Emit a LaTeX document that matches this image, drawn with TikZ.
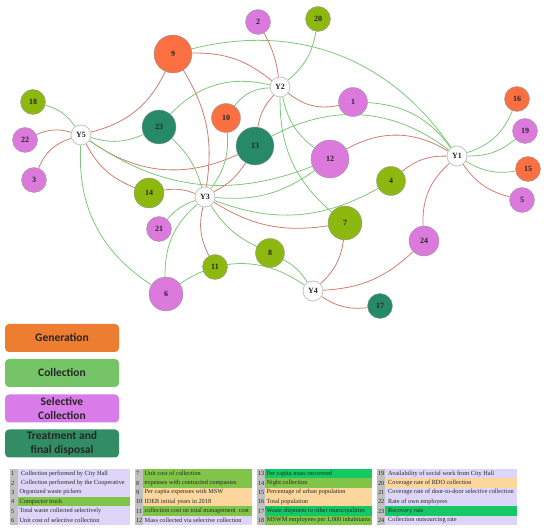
\documentclass[tikz,border=0pt]{standalone}
\usepackage{fontspec}
\setmainfont{Liberation Serif}
\newfontfamily\legfont{Carlito}
\pgfdeclarelayer{bg}
\pgfsetlayers{bg,main}
\definecolor{cOr}{RGB}{250,112,66}
\definecolor{cOl}{RGB}{141,184,16}
\definecolor{cPk}{RGB}{219,122,220}
\definecolor{cDg}{RGB}{38,138,104}
\definecolor{eGr}{RGB}{125,200,120}
\definecolor{eRd}{RGB}{208,125,110}
\definecolor{lGen}{RGB}{237,125,49}
\definecolor{lCol}{RGB}{118,196,104}
\definecolor{lSel}{RGB}{217,123,232}
\definecolor{lTre}{RGB}{50,140,100}
\definecolor{tLav}{RGB}{221,214,248}
\definecolor{tGrn}{RGB}{128,196,72}
\definecolor{tBgr}{RGB}{20,200,100}
\definecolor{tOrg}{RGB}{252,214,156}
\definecolor{tGry}{RGB}{192,192,192}
\newcommand{\tcell}[6]{%
  \pgfmathsetmacro\ytop{61-9.33*#3}%
  \fill[#5] (#1,\ytop) rectangle (#2,\ytop-9.33);%
  \fill[tGry] (#1,\ytop) rectangle (#1+8,\ytop-9.33);%
  \node[tnum] (tn#4) at (#1+0.8,\ytop-4.8) {#4};%
  \node[ttxt] (tt#4) at (#1+9.5,\ytop-4.8) {#6};%
}
\begin{document}
\begin{tikzpicture}[x=1pt,y=1pt,
  vtx/.style={circle, inner sep=0pt, draw=black!40, line width=0.4pt, text=black!85,
    font=\bfseries\fontsize{8}{8}\selectfont},
  hub/.style={vtx, fill=white, minimum size=20pt, draw=black!22, line width=0.9pt},
  vo/.style={vtx, fill=cOr},
  vg/.style={vtx, fill=cOl},
  vp/.style={vtx, fill=cPk},
  vd/.style={vtx, fill=cDg},
  eg/.style={draw=eGr, line width=0.8pt},
  er/.style={draw=eRd, line width=0.8pt},
  legbox/.style={rounded corners=4pt, minimum width=114pt, minimum height=28pt, inner sep=1pt,
    align=center, text=black!85, font=\legfont\bfseries\fontsize{11.5}{13.5}\selectfont},
  tnum/.style={anchor=west, inner sep=0pt, text=black!85, font=\fontsize{6.3}{7}\selectfont},
  ttxt/.style={anchor=west, inner sep=0pt, text=black!85, font=\fontsize{6.3}{7}\selectfont}
]
\useasboundingbox (0,0) rectangle (550,530);
% hubs
\node[hub] (Y1) at (457,374) {Y1};
\node[hub] (Y2) at (280,443) {Y2};
\node[hub] (Y3) at (205,333) {Y3};
\node[hub] (Y4) at (313,239) {Y4};
\node[hub] (Y5) at (81,395) {Y5};
% variables
\node[vp, minimum size=29pt] (n1) at (353,428) {1};
\node[vp, minimum size=25pt] (n2) at (258,508) {2};
\node[vp, minimum size=25pt] (n3) at (34,350) {3};
\node[vg, minimum size=29pt] (n4) at (391,349) {4};
\node[vp, minimum size=25pt] (n5) at (522,330) {5};
\node[vp, minimum size=34pt] (n6) at (166,236) {6};
\node[vg, minimum size=34pt] (n7) at (345,307) {7};
\node[vg, minimum size=29pt] (n8) at (270,277) {8};
\node[vo, minimum size=38pt] (n9) at (173,476) {9};
\node[vo, minimum size=29pt] (n10) at (226,412) {10};
\node[vg, minimum size=25pt] (n11) at (215,263) {11};
\node[vp, minimum size=38pt] (n12) at (330,371) {12};
\node[vd, minimum size=38pt] (n13) at (255,384) {13};
\node[vg, minimum size=30pt] (n14) at (149,337) {14};
\node[vo, minimum size=25pt] (n15) at (528,361) {15};
\node[vo, minimum size=25pt] (n16) at (517,431) {16};
\node[vd, minimum size=25pt] (n17) at (380,224) {17};
\node[vg, minimum size=25pt] (n18) at (33,428) {18};
\node[vp, minimum size=25pt] (n19) at (525,399) {19};
\node[vg, minimum size=25pt] (n20) at (318,511) {20};
\node[vp, minimum size=25pt] (n21) at (159,301) {21};
\node[vp, minimum size=25pt] (n22) at (25,390) {22};
\node[vd, minimum size=34pt] (n23) at (159,403) {23};
\node[vp, minimum size=30pt] (n24) at (424,289) {24};
\begin{pgfonlayer}{bg}
% Y1
\draw[eg] (Y1) to[bend right=25] (n16);
\draw[eg] (Y1) to[bend right=20] (n19);
\draw[eg] (Y1) to[bend right=20] (n15);
\draw[er] (Y1) to[bend right=20] (n5);
\draw[er] (Y1) to[bend right=25] (n24);
\draw[eg] (n1) to[bend left=25] (Y1);
\draw[eg] (n9) to[bend left=35] (Y1);
\draw[eg] (n13) to[bend left=33] (Y1);
\draw[er] (n12) to[bend left=30] (Y1);
\draw[er] (n4) to[bend left=20] (Y1);
% Y2
\draw[er] (n2) to[bend left=10] (Y2);
\draw[eg] (Y2) to[bend right=20] (n20);
\draw[er] (n9) to[bend left=20] (Y2);
\draw[er] (Y2) to[bend right=25] (n1);
\draw[eg] (n23) to[bend left=30] (Y2);
\draw[eg] (n10) to[bend left=25] (Y2);
\draw[er] (n13) to[bend left=15] (Y2);
\draw[eg] (Y2) to[bend right=20] (n12);
\draw[eg] (Y2) to[bend right=25] (n7);
% Y5
\draw[eg] (n18) to[bend left=20] (Y5);
\draw[er] (n22) to[bend left=20] (Y5);
\draw[er] (n3) to[bend left=25] (Y5);
\draw[er] (Y5) to[bend right=25] (n9);
\draw[eg] (Y5) to[bend right=20] (n23);
\draw[er] (Y5) to[bend right=30] (n13);
\draw[eg] (Y5) to[bend right=28] (n12);
\draw[er] (Y5) to[bend right=20] (n14);
\draw[eg] (Y5) to[bend right=30] (n6);
% Y3
\draw[er] (n9) to[bend left=20] (Y3);
\draw[eg] (n23) to[bend left=15] (Y3);
\draw[eg] (n10) to[bend left=20] (Y3);
\draw[er] (n13) to[bend left=15] (Y3);
\draw[er] (n14) to[bend left=15] (Y3);
\draw[eg] (Y3) to[bend right=15] (n21);
\draw[eg] (Y3) to[bend right=25] (n6);
\draw[er] (Y3) to[bend right=20] (n11);
\draw[eg] (Y3) to[bend right=15] (n8);
\draw[er] (Y3) to[bend right=20] (n7);
\draw[eg] (Y3) to[bend right=25] (n4);
\draw[eg] (Y3) to[bend right=20] (n12);
% Y4
\draw[eg] (n8) to[bend left=15] (Y4);
\draw[eg] (n6) to[bend left=35] (Y4);
\draw[er] (Y4) to[bend right=20] (n7);
\draw[er] (Y4) to[bend right=20] (n24);
\draw[er] (Y4) to[bend right=20] (n17);
\end{pgfonlayer}
% legend
\node[legbox, fill=lGen] (lg1) at (62,192) {Generation};
\node[legbox, fill=lCol] (lg2) at (62,157) {Collection};
\node[legbox, fill=lSel] (lg3) at (62,121.5) {Selective\\Collection};
\node[legbox, fill=lTre] (lg4) at (62,86.5) {Treatment and\\final disposal};
% table
\tcell{10}{130}{0}{1}{tLav}{\hspace{1.5pt}Collection performed by City Hall}
\tcell{10}{130}{1}{2}{tLav}{\hspace{1.5pt}Collection performed by the Cooperative}
\tcell{10}{130}{2}{3}{tLav}{Organized waste pickers}
\tcell{10}{130}{3}{4}{tGrn}{Compactor truck}
\tcell{10}{130}{4}{5}{tLav}{Total waste collected selectively}
\tcell{10}{130}{5}{6}{tLav}{Unit cost of selective collection}
\tcell{135}{252}{0}{7}{tGrn}{Unit cost of collection}
\tcell{135}{252}{1}{8}{tGrn}{expenses with contracted companies}
\tcell{135}{252}{2}{9}{tOrg}{Per capita expenses with MSW}
\tcell{135}{252}{3}{10}{tOrg}{IDEB initial years in 2018}
\tcell{135}{252}{4}{11}{tGrn}{collection cost on total management\ \ cost}
\tcell{135}{252}{5}{12}{tLav}{Mass collected via selective collection}
\tcell{257}{372}{0}{13}{tBgr}{Per capita mass recovered}
\tcell{257}{372}{1}{14}{tGrn}{Night collection}
\tcell{257}{372}{2}{15}{tOrg}{Percentage of urban population}
\tcell{257}{372}{3}{16}{tOrg}{Total population}
\tcell{257}{372}{4}{17}{tBgr}{Waste shipment to other municipalities}
\tcell{257}{372}{5}{18}{tGrn}{MSWM employees per 1,000 inhabitants}
\tcell{377}{517}{0}{19}{tLav}{\hspace{1.5pt}Availability of social work from City Hall}
\tcell{377}{517}{1}{20}{tOrg}{\hspace{1.5pt}Coverage rate of RDO collection}
\tcell{377}{517}{2}{21}{tLav}{\hspace{1.5pt}Coverage rate of door-to-door selective collection}
\tcell{377}{517}{3}{22}{tLav}{\hspace{1.5pt}Rate of own employees}
\tcell{377}{517}{4}{23}{tBgr}{\hspace{1.5pt}Recovery rate}
\tcell{377}{517}{5}{24}{tLav}{\hspace{1.5pt}Collection outsourcing rate}
\end{tikzpicture}
\end{document}
